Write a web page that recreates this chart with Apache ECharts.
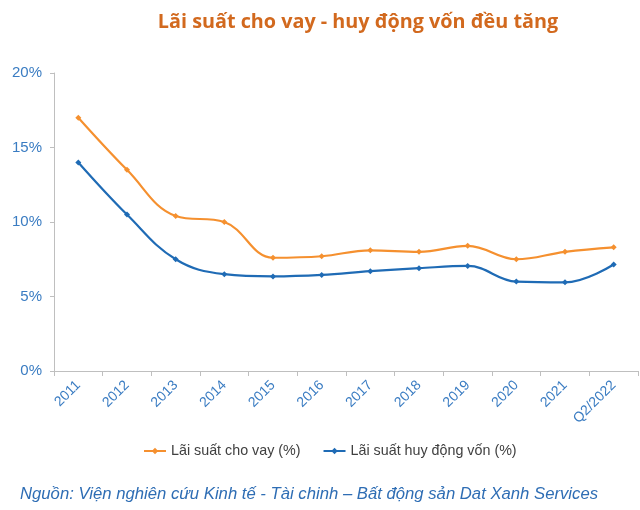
<!DOCTYPE html>
<html><head><meta charset="utf-8">
<script src="https://cdn.jsdelivr.net/npm/echarts@6/dist/echarts.min.js"></script>
<style>html,body{margin:0;padding:0;background:#fff}#c{width:640px;height:510px}</style>
</head><body><div id="c"></div>
<script>
const categories = ['2011','2012','2013','2014','2015','2016','2017','2018','2019','2020','2021','Q2/2022'];
const lendingRate = [17.0, 13.5, 10.4, 10.0, 7.6, 7.7, 8.1, 8.0, 8.4, 7.5, 8.0, 8.3];
const depositRate = [14.0, 10.5, 7.5, 6.5, 6.35, 6.45, 6.7, 6.9, 7.05, 6.0, 5.95, 7.15];
const yTicks = [0, 5, 10, 15, 20];

const chart = echarts.init(document.getElementById('c'));
const blueText = '#3A7CC2';
chart.setOption({
  animation: false,
  title: {
    text: 'Lãi suất cho vay - huy động vốn đều tăng',
    left: 353, top: 7, textAlign: 'center',
    textStyle: { fontFamily: 'Open Sans', fontWeight: 'bold', fontSize: 19.8, color: '#D2691E' }
  },
  graphic: [{
    type: 'text', left: 20, top: 486,
    style: { text: 'Nguồn: Viện nghiên cứu Kinh tế - Tài chinh – Bất động sản Dat Xanh Services',
      font: 'italic 16.7px "Liberation Sans", Arial, sans-serif', fill: '#2E6DB4' }
  }],
  legend: {
    left: 138, top: 439, itemGap: 22, itemWidth: 22, itemHeight: 8,
    textStyle: { fontFamily: 'Liberation Sans', fontSize: 14.3, color: '#404040' },
    data: [{ name: 'Lãi suất cho vay (%)' }, { name: 'Lãi suất huy động vốn (%)' }]
  },
  grid: { left: 54, right: 2, top: 73, bottom: 139, containLabel: false },
  xAxis: {
    type: 'category', data: categories, boundaryGap: true,
    axisLine: { lineStyle: { color: '#BFBFBF', width: 1 } },
    axisTick: { show: true, length: 5, lineStyle: { color: '#BFBFBF' } },
    axisLabel: { rotate: 45, color: blueText, fontFamily: 'Liberation Sans', fontSize: 14, margin: 12, interval: 0 }
  },
  yAxis: {
    type: 'value', min: 0, max: 20, interval: 5,
    axisLine: { show: true, lineStyle: { color: '#BFBFBF', width: 1 } },
    axisTick: { show: true, length: 4, lineStyle: { color: '#BFBFBF' } },
    splitLine: { show: false },
    axisLabel: { formatter: v => yTicks.includes(v) ? v + '%' : '', color: blueText, fontFamily: 'Liberation Sans', fontSize: 15, margin: 12 }
  },
  series: [
    { name: 'Lãi suất cho vay (%)', type: 'line', data: lendingRate, smooth: 0.4,
      symbol: 'diamond', symbolSize: 6,
      lineStyle: { color: '#F5902F', width: 2.2 }, itemStyle: { color: '#F5902F' } },
    { name: 'Lãi suất huy động vốn (%)', type: 'line', data: depositRate, smooth: 0.4,
      symbol: 'diamond', symbolSize: 6,
      lineStyle: { color: '#1F6BB5', width: 2.2 }, itemStyle: { color: '#1F6BB5' } }
  ]
});
</script></body></html>
